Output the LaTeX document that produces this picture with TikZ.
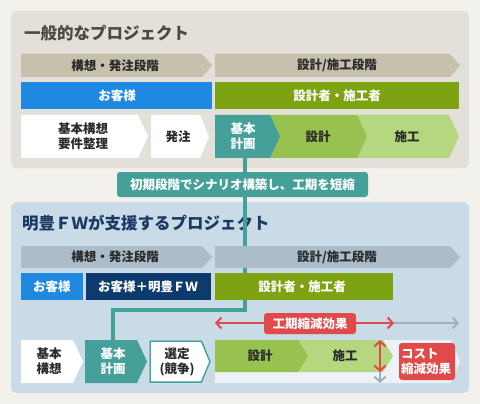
\documentclass[tikz,border=0pt]{standalone}
\usepackage{fontspec}
\setmainfont{Noto Sans CJK JP}
\usetikzlibrary{arrows.meta}
\definecolor{bgc}{HTML}{F3F1EB}
\definecolor{toppanel}{HTML}{E3E0D9}
\definecolor{botpanel}{HTML}{C9DBE6}
\definecolor{phasetop}{HTML}{C6C0AC}
\definecolor{phasebot}{HTML}{ABBCCA}
\definecolor{custblue}{HTML}{1F88E0}
\definecolor{dgreen}{HTML}{7DA312}
\definecolor{navy}{HTML}{0D3B6E}
\definecolor{tealc}{HTML}{45A09A}
\definecolor{mgreen}{HTML}{97C24F}
\definecolor{lgreen}{HTML}{B5D77F}
\definecolor{redc}{HTML}{E04A4A}
\definecolor{grayarr}{HTML}{9FB0BD}
\definecolor{pale}{HTML}{EDF2F6}
\definecolor{darktxt}{HTML}{2A2A2A}
\definecolor{toptitle}{HTML}{4A4A42}
\definecolor{bottitle}{HTML}{1B3A63}
\newcommand\chevron[6]{\fill[#1] (#2,#5) -- (#3,#5) -- (#4,{(#5+#6)/2}) -- (#3,#6) -- (#2,#6) -- cycle;}
\begin{document}
\begin{tikzpicture}[x=1pt,y=-1pt,
  lbl/.style={inner sep=0pt, align=center, font=\bfseries\fontsize{12.5}{15}\selectfont, text=darktxt},
  wlbl/.style={lbl, text=white},
  ttl/.style={inner sep=0pt, anchor=west, font=\bfseries\fontsize{16.5}{18}\selectfont},
  conn/.style={draw=tealc, line width=4pt},
  redarr/.style={draw=redc, line width=2pt, {Straight Barb[length=5pt,width=11pt]}-{Straight Barb[length=5pt,width=11pt]}},
  grayarrow/.style={draw=grayarr, line width=2pt, -{Straight Barb[length=5pt,width=11pt]}}]
\useasboundingbox (0,0) rectangle (480,404);
\fill[bgc] (0,0) rectangle (480,404);
% panels
\fill[toppanel, rounded corners=6pt] (11,11) rectangle (469,168);
\fill[botpanel, rounded corners=6pt] (11,202) rectangle (469,393);

% ---------- top panel ----------
\node[ttl, text=toptitle] (t1) at (24,33) {一般的なプロジェクト};
\chevron{phasetop}{21}{202}{212}{54}{77}
\chevron{phasetop}{215}{450}{460}{54}{77}
\node[lbl] (p1) at (115,65.5) {構想・発注段階};
\node[lbl] (p2) at (337,65.5) {設計/施工段階};
\fill[custblue] (21,82) rectangle (212,109);
\fill[dgreen] (215,82) rectangle (459,109);
\node[wlbl] (c1) at (117,95.5) {お客様};
\node[wlbl] (c2) at (337,95.5) {設計者・施工者};
\chevron{white}{21}{138}{148}{115}{158}
\chevron{white}{151}{200}{209}{115}{158}
\chevron{lgreen}{350}{449}{459}{115}{158}
\chevron{mgreen}{262}{357}{367}{115}{158}
\chevron{tealc}{215}{270}{280}{115}{158}
\node[lbl] (s1) at (83,136.5) {基本構想\\要件整理};
\node[lbl] (s2) at (178,136.5) {発注};
\node[wlbl, minimum height=43pt] (tkk) at (245,136.5) {};
\node[wlbl] at (243,136.5) {基本\\計画};
\node[lbl] (s4) at (318,136.5) {設計};
\node[lbl] (s5) at (407,136.5) {施工};

% ---------- bottom panel ----------
\node[ttl, text=bottitle] (t2) at (22,223) {明豊ＦＷが支援するプロジェクト};

% connector
\node[bkk/.style={}, minimum height=43pt, inner sep=0pt] (bkk) at (113,361.5) {};
\draw[conn] (tkk.south) -- ++(0,152) -| (bkk.north);
\node[wlbl, fill=tealc, rounded corners=3pt, minimum width=251pt, minimum height=25pt] (note) at (242.5,184.5) {初期段階でシナリオ構築し、工期を短縮};

\chevron{phasebot}{21}{202}{212}{246}{268}
\chevron{phasebot}{215}{450}{460}{246}{268}
\node[lbl] (q1) at (115,257) {構想・発注段階};
\node[lbl] (q2) at (337,257) {設計/施工段階};
\fill[custblue] (21,273) rectangle (83,300);
\fill[navy] (86,273) rectangle (211,300);
\fill[dgreen] (215,273) rectangle (393,300);
\node[wlbl] (d1) at (52,286.5) {お客様};
\node[wlbl] (d2) at (148,286.5) {お客様＋明豊ＦＷ};
\node[wlbl] (d3) at (302,286.5) {設計者・施工者};

% bottom row
\chevron{white}{21}{73}{83}{340}{383}
\chevron{tealc}{85}{137}{147}{340}{383}
\chevron{white}{149}{202}{211}{340}{383}
\draw[tealc, line width=1.5pt] (150,341) -- (201.5,341) -- (210,361.5) -- (201.5,382) -- (150,382) -- cycle;
\chevron{pale}{215}{451}{460}{340}{383}
\chevron{lgreen}{290}{383}{393}{340}{372}
\chevron{mgreen}{215}{298}{308}{340}{372}
\node[lbl] (e1) at (49,361.5) {基本\\構想};
\node[wlbl] (e2) at (113,361.5) {基本\\計画};
\node[lbl] (e3) at (177,361.5) {選定\\(競争)};
\node[lbl] (e4) at (260,356) {設計};
\node[lbl] (e5) at (345,356) {施工};

% schedule reduction arrows
\coordinate (hL) at (215,323);
\coordinate (hR) at (394,323);
\coordinate (hG) at (459,323);
\draw[grayarrow] (hR) -- (hG);
\draw[redarr] (hL) -- (hR);
\node[wlbl, fill=redc, rounded corners=3pt, minimum width=92pt, minimum height=21pt] (kk) at (310,323.5) {工期縮減効果};

% cost reduction arrows
\coordinate (vT) at (380,340);
\coordinate (vB) at (380,372);
\coordinate (vG) at (380,383);
\draw[grayarrow] (vB) -- (vG);
\draw[redarr] (vT) -- (vB);
\node[wlbl, fill=redc, rounded corners=3pt, minimum width=56pt, minimum height=37pt, text width=52pt, align=left] (cost) at (427,361.5) {コスト\\縮減効果};
\end{tikzpicture}
\end{document}
